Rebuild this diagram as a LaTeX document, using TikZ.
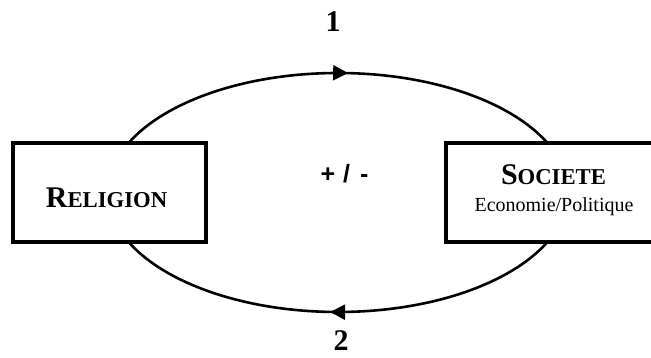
\documentclass[tikz,border=0pt]{standalone}
\usepackage{fontspec}
\setmainfont{Liberation Serif}
\newfontfamily\sansf{Liberation Sans}
\usetikzlibrary{arrows.meta,decorations.markings}
\newcommand{\bigfs}{\fontsize{30}{34}\selectfont}
\newcommand{\scfs}{\fontsize{22.7}{26}\selectfont}
\begin{document}
\begin{tikzpicture}[x=1pt,y=1pt,
  loop/.style={line width=2.6pt},
  boxst/.style={draw, line width=3.2pt, fill=white, inner sep=0pt, minimum height=99pt},
  lbl/.style={inner sep=0pt, anchor=base, text depth=0pt, font=\bfseries\bigfs},
  tip/.style={postaction={decorate}, decoration={markings, mark=at position #1 with {\arrow{Triangle[length=15pt,width=15pt]}}}}]
\clip (0,0) rectangle (651,358);
\coordinate (L) at (108,165.5);
\coordinate (R) at (568,165.5);
\draw[loop, tip=0.518] (L) arc[start angle=180, end angle=0, x radius=230, y radius=119.5];
\draw[loop, tip=0.514] (R) arc[start angle=0, end angle=-180, x radius=230, y radius=119.5];
\node[boxst, minimum width=193pt] (religion) at (109.5,165.5) {};
\node[boxst, minimum width=216pt] (societe) at (554,165.5) {};
\node[inner sep=0pt, anchor=base] (reltxt) at (106.5,150) {\bfseries{\bigfs R}{\scfs ELIGION}};
\node[inner sep=0pt, anchor=base] (soctxt) at (553.5,173) {\bfseries{\bigfs S}{\scfs OCIETE}};
\node[inner sep=0pt, anchor=base, font=\fontsize{20}{24}\selectfont] (ecotxt) at (554,146) {Economie/Politique};
\node[lbl] (one) at (333,326) {1};
\node[lbl] (two) at (341,7) {2};
\node[inner sep=0pt, anchor=base, font=\sansf\bfseries\fontsize{25}{29}\selectfont] (pm) at (344.5,175) {+\hspace{8pt}/\hspace{10pt}-};
\end{tikzpicture}
\end{document}
